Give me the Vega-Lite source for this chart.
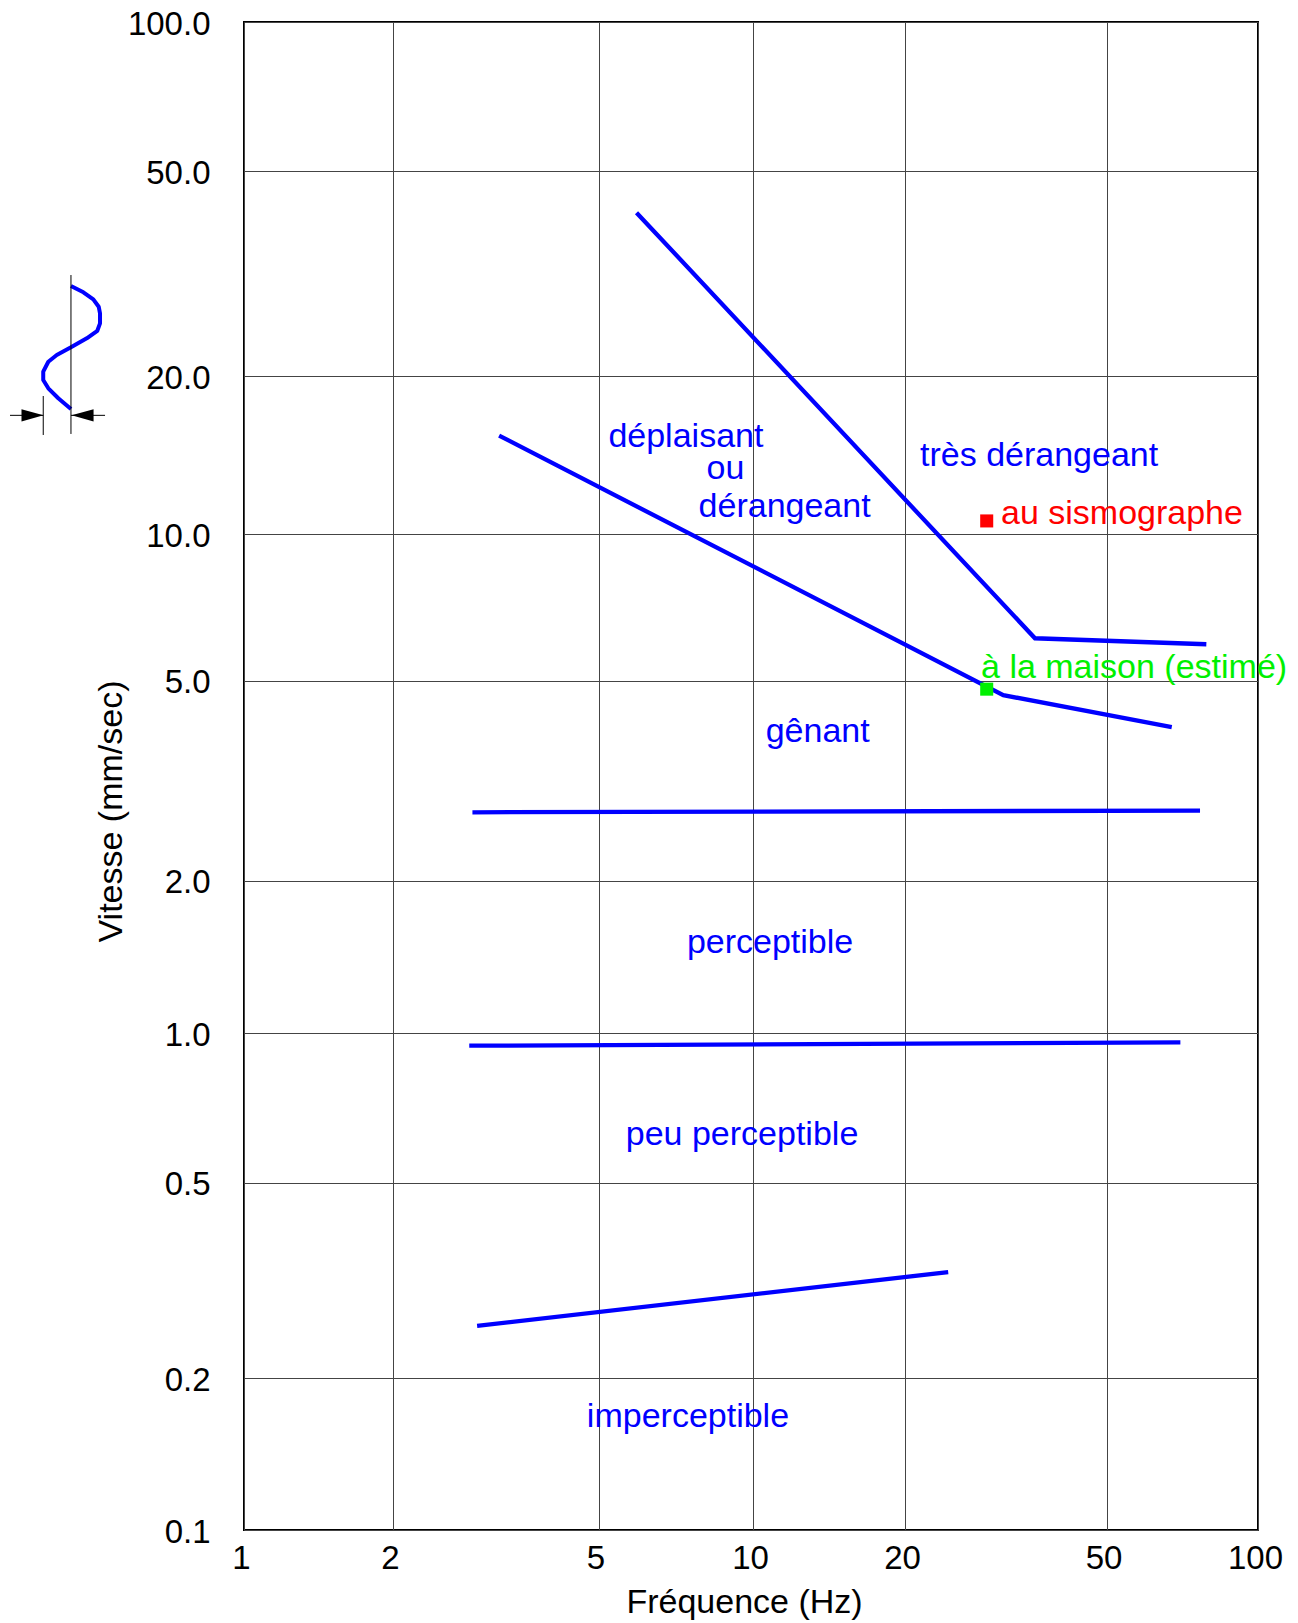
{
  "$schema": "https://vega.github.io/schema/vega-lite/v6.json",
  "width": 1014,
  "height": 1508,
  "autosize": {"type": "none"},
  "padding": {"left": 244, "top": 22, "right": 40, "bottom": 93},
  "background": "white",
  "config": {
    "font": "Liberation Sans",
    "view": {"stroke": "#000000", "strokeWidth": 2},
    "axis": {"labelFont": "Liberation Sans", "titleFont": "Liberation Sans", "labelColor": "#000000", "titleColor": "#000000", "titleFontWeight": "normal", "labelFontSize": 33, "titleFontSize": 34, "grid": true, "gridColor": "#444444", "gridWidth": 1, "gridOpacity": 1, "ticks": false, "domain": false}
  },
  "datasets": {
    "bounds": [
      {"series": "A", "f": 5.93, "v": 41.55},
      {"series": "A", "f": 36.12, "v": 6.11},
      {"series": "A", "f": 78.95, "v": 5.94},
      {"series": "B", "f": 3.21, "v": 15.4},
      {"series": "B", "f": 31.27, "v": 4.68},
      {"series": "B", "f": 67.4, "v": 4.04},
      {"series": "C", "f": 2.85, "v": 2.736},
      {"series": "C", "f": 76.7, "v": 2.758},
      {"series": "D", "f": 2.81, "v": 0.944},
      {"series": "D", "f": 70.1, "v": 0.959},
      {"series": "E", "f": 2.91, "v": 0.2553},
      {"series": "E", "f": 24.34, "v": 0.3287}
    ],
    "icon": [
      {"part": "wave", "i": 1, "f": 0.4471, "v": 29.92},
      {"part": "wave", "i": 2, "f": 0.4737, "v": 29.09},
      {"part": "wave", "i": 3, "f": 0.4961, "v": 28.19},
      {"part": "wave", "i": 4, "f": 0.5087, "v": 27.27},
      {"part": "wave", "i": 5, "f": 0.5118, "v": 26.48},
      {"part": "wave", "i": 6, "f": 0.5118, "v": 25.32},
      {"part": "wave", "i": 7, "f": 0.5054, "v": 24.49},
      {"part": "wave", "i": 8, "f": 0.4812, "v": 23.68},
      {"part": "wave", "i": 9, "f": 0.4471, "v": 22.74},
      {"part": "wave", "i": 10, "f": 0.4185, "v": 21.97},
      {"part": "wave", "i": 11, "f": 0.4024, "v": 21.32},
      {"part": "wave", "i": 12, "f": 0.393, "v": 20.39},
      {"part": "wave", "i": 13, "f": 0.393, "v": 19.65},
      {"part": "wave", "i": 14, "f": 0.4024, "v": 18.95},
      {"part": "wave", "i": 15, "f": 0.4215, "v": 18.14},
      {"part": "wave", "i": 16, "f": 0.4471, "v": 17.3},
      {"part": "ref1", "i": 1, "f": 0.4471, "v": 31.43},
      {"part": "ref1", "i": 2, "f": 0.4471, "v": 15.51},
      {"part": "ref2", "i": 1, "f": 0.393, "v": 18.32},
      {"part": "ref2", "i": 2, "f": 0.393, "v": 15.44},
      {"part": "shaftL", "i": 1, "f": 0.3367, "v": 16.83},
      {"part": "shaftL", "i": 2, "f": 0.393, "v": 16.83},
      {"part": "shaftR", "i": 1, "f": 0.4471, "v": 16.83},
      {"part": "shaftR", "i": 2, "f": 0.5239, "v": 16.83}
    ],
    "heads": [
      {"dir": "right", "f": 0.3738, "v": 16.83},
      {"dir": "left", "f": 0.4719, "v": 16.83}
    ],
    "obs": [
      {"where": "au sismographe", "f": 29.0, "v": 10.59},
      {"where": "à la maison (estimé)", "f": 29.0, "v": 4.81}
    ],
    "zones": [
      {"label": "déplaisant", "f": 7.4, "v": 15.31},
      {"label": "ou", "f": 8.84, "v": 13.31},
      {"label": "dérangeant", "f": 11.55, "v": 11.25},
      {"label": "très dérangeant", "f": 36.8, "v": 14.11},
      {"label": "gênant", "f": 13.43, "v": 3.96},
      {"label": "perceptible", "f": 10.81, "v": 1.507},
      {"label": "peu perceptible", "f": 9.52, "v": 0.6225},
      {"label": "imperceptible", "f": 7.47, "v": 0.1674}
    ],
    "obslabels": [
      {"where": "au sismographe", "f": 30.95, "v": 10.91},
      {"where": "à la maison (estimé)", "f": 28.26, "v": 5.305}
    ]
  },
  "encoding": {
    "x": {"field": "f", "type": "quantitative",
      "scale": {"type": "log", "domain": [1, 2, 5, 10, 20, 50, 100], "range": [0, 149, 354.5, 509, 661, 862.5, 1014], "nice": false},
      "axis": {"values": [1, 2, 5, 10, 20, 50, 100], "format": "d", "labelPadding": 12, "labelOffset": -3, "title": "Fréquence (Hz)", "titleX": 500, "titleY": 72, "titleBaseline": "middle", "labelFlush": false, "labelOverlap": false}},
    "y": {"field": "v", "type": "quantitative",
      "scale": {"type": "log", "domain": [0.1, 0.2, 0.5, 1, 2, 5, 10, 20, 50, 100], "range": [1508, 1356, 1160.7, 1011.3, 858.7, 658.7, 512, 354, 149.3, 0], "nice": false},
      "axis": {"values": [0.1, 0.2, 0.5, 1, 2, 5, 10, 20, 50, 100], "format": ".1f", "labelPadding": 34, "labelOffset": 2, "title": "Vitesse (mm/sec)", "titleX": -133, "titleY": 789, "titleBaseline": "middle", "titleAngle": -90, "labelFlush": false, "labelOverlap": false}}
  },
  "layer": [
    {
      "data": {"name": "bounds"},
      "mark": {"type": "line", "color": "#0000ff", "strokeWidth": 4.3, "clip": false},
      "encoding": {"detail": {"field": "series"}}
    },
    {
      "data": {"name": "icon"},
      "transform": [{"filter": "datum.part === 'wave'"}],
      "mark": {"type": "line", "color": "#0000ff", "strokeWidth": 4, "clip": false, "strokeJoin": "round"},
      "encoding": {"order": {"field": "i"}}
    },
    {
      "data": {"name": "icon"},
      "transform": [{"filter": "datum.part !== 'wave'"}],
      "mark": {"type": "line", "color": "#000000", "strokeWidth": 1, "clip": false},
      "encoding": {"detail": {"field": "part"}, "order": {"field": "i"}}
    },
    {
      "data": {"name": "heads"},
      "mark": {"type": "point", "filled": true, "color": "#000000", "opacity": 1, "size": 484, "clip": false},
      "encoding": {"shape": {"field": "dir", "type": "nominal", "scale": {"domain": ["right", "left"], "range": ["M-1,-0.55L1,0L-1,0.55Z", "M1,-0.55L-1,0L1,0.55Z"]}, "legend": null}}
    },
    {
      "data": {"name": "obs"},
      "mark": {"type": "square", "filled": true, "opacity": 1, "size": 170},
      "encoding": {"color": {"field": "where", "type": "nominal", "scale": {"domain": ["au sismographe", "à la maison (estimé)"], "range": ["#ff0000", "#00f000"]}, "legend": null}}
    },
    {
      "data": {"name": "zones"},
      "mark": {"type": "text", "color": "#0000ff", "fontSize": 34, "font": "Liberation Sans", "align": "center", "baseline": "middle"},
      "encoding": {"text": {"field": "label"}}
    },
    {
      "data": {"name": "obslabels"},
      "mark": {"type": "text", "fontSize": 34, "font": "Liberation Sans", "align": "left", "baseline": "middle", "clip": false},
      "encoding": {"text": {"field": "where"}, "color": {"field": "where", "type": "nominal", "scale": {"domain": ["au sismographe", "à la maison (estimé)"], "range": ["#ff0000", "#00f000"]}, "legend": null}}
    }
  ]
}
